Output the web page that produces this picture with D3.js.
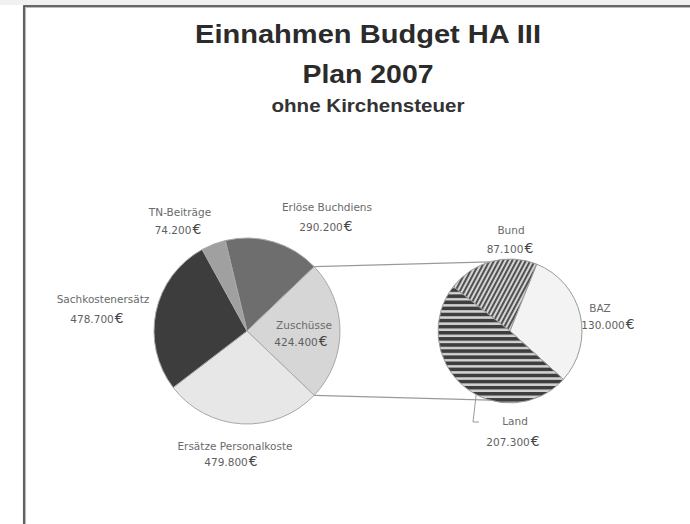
<!DOCTYPE html>
<html>
<head>
<meta charset="utf-8">
<script src="https://cdn.jsdelivr.net/npm/d3@7"></script>
<style>
  html, body { margin: 0; padding: 0; background: #ffffff; }
  svg { display: block; }
</style>
</head>
<body>
<svg id="chart" width="690" height="524"></svg>
<script>
// ---- data ----
const titleLines = ["Einnahmen Budget HA III", "Plan 2007", "ohne Kirchensteuer"];
const mainCategories = ["Erlöse Buchdiens", "Zuschüsse", "Ersätze Personalkoste", "Sachkostenersätz", "TN-Beiträge"];
const mainValues = [290200, 424400, 479800, 478700, 74200];
const splitIndex = 1; // "Zuschüsse" is broken out into the second pie
const subCategories = ["Bund", "BAZ", "Land"];
const subValues = [87100, 130000, 207300];

// ---- layout / style (kept separate from data) ----
const W = 690, H = 524;
const main = { cx: 247, cy: 331, r: 93 };
const sub = { cx: 510, cy: 331, r: 72, start: -52 * Math.PI / 180 };
const mainFills = ["#6e6e6e", "#d6d6d6", "#e7e7e7", "#3d3d3d", "#a0a0a0"];
const subFills = ["url(#hatchDiag)", "#f3f3f3", "url(#hatchHoriz)"];
// label anchor positions (name line centre, value line centre)
const mainLabelPos = [
  { nx: 327, ny: 207, vx: 326, vy: 227 },
  { nx: 304, ny: 325, vx: 301, vy: 342 },
  { nx: 235, ny: 446, vx: 231, vy: 462 },
  { nx: 103, ny: 299, vx: 97,  vy: 319 },
  { nx: 180, ny: 212, vx: 178, vy: 230 }
];
const subLabelPos = [
  { nx: 511, ny: 230, vx: 510, vy: 249 },
  { nx: 600, ny: 308, vx: 608, vy: 325 },
  { nx: 515, ny: 421, vx: 513, vy: 442 }
];

const svg = d3.select("#chart");
const de = d3.formatLocale({ decimal: ",", thousands: ".", grouping: [3], currency: ["", " €"] });
const fmt = de.format(",d");

// background + frame
svg.append("rect").attr("x", 0).attr("y", 0).attr("width", W).attr("height", H).attr("fill", "#ffffff");
svg.append("rect").attr("x", 0).attr("y", 0).attr("width", W).attr("height", 5).attr("fill", "#f1f1f1");
svg.append("path").attr("d", `M24.5,${H} L24.5,6.5 L${W},6.5`)
  .attr("fill", "none").attr("stroke", "#bdbdbd").attr("stroke-width", 3.2);
svg.append("path").attr("d", `M24,${H} L24,6 L${W},6`)
  .attr("fill", "none").attr("stroke", "#4a4a4a").attr("stroke-width", 1.6);

// patterns
const defs = svg.append("defs");
const pd = defs.append("pattern").attr("id", "hatchDiag").attr("patternUnits", "userSpaceOnUse")
  .attr("width", 4).attr("height", 4).attr("patternTransform", "rotate(28)");
pd.append("rect").attr("width", 4).attr("height", 4).attr("fill", "#d4d4d4");
pd.append("rect").attr("x", 0).attr("y", 0).attr("width", 1.9).attr("height", 4).attr("fill", "#4a4a4a");
const ph = defs.append("pattern").attr("id", "hatchHoriz").attr("patternUnits", "userSpaceOnUse")
  .attr("width", 6).attr("height", 6.1);
ph.append("rect").attr("width", 6).attr("height", 6.1).attr("fill", "#d2d2d2");
ph.append("rect").attr("x", 0).attr("y", 0).attr("width", 6).attr("height", 3.6).attr("fill", "#3e3e3e");

// titles
const titleSpecs = [
  { y: 43, size: 26, len: 346, color: "#2b2b2b" },
  { y: 83, size: 26, len: 131, color: "#2b2b2b" },
  { y: 112, size: 18, len: 193, color: "#333333" }
];
titleLines.forEach((t, i) => {
  const s = titleSpecs[i];
  svg.append("text").attr("x", 368).attr("y", s.y)
    .attr("text-anchor", "middle")
    .attr("font-family", "'Liberation Sans', Arial, sans-serif")
    .attr("font-weight", "bold").attr("font-size", s.size)
    .attr("fill", s.color)
    .attr("textLength", s.len).attr("lengthAdjust", "spacingAndGlyphs")
    .text(t);
});

// main pie: broken-out slice centred at 3 o'clock
const total = d3.sum(mainValues);
const before = d3.sum(mainValues.slice(0, splitIndex)) + mainValues[splitIndex] / 2;
const a0 = Math.PI / 2 - before / total * 2 * Math.PI;
const mainPie = d3.pie().sort(null).startAngle(a0).endAngle(a0 + 2 * Math.PI)(mainValues);
const mainArc = d3.arc().innerRadius(0).outerRadius(main.r);

const subPie = d3.pie().sort(null).startAngle(sub.start).endAngle(sub.start + 2 * Math.PI)(subValues);
const subArc = d3.arc().innerRadius(0).outerRadius(sub.r);

// connector lines
const split = mainPie[splitIndex];
const pt = (c, r, a) => [c.cx + r * Math.sin(a), c.cy - r * Math.cos(a)];
const lTop = pt(main, main.r, split.startAngle), lBot = pt(main, main.r, split.endAngle);
const rTop = pt(sub, sub.r, -16 * Math.PI / 180), rBot = pt(sub, sub.r, 196 * Math.PI / 180);
svg.append("line").attr("x1", lTop[0]).attr("y1", lTop[1]).attr("x2", rTop[0]).attr("y2", rTop[1])
  .attr("stroke", "#9a9a9a").attr("stroke-width", 1.2);
svg.append("line").attr("x1", lBot[0]).attr("y1", lBot[1]).attr("x2", rBot[0]).attr("y2", rBot[1])
  .attr("stroke", "#9a9a9a").attr("stroke-width", 1.2);

svg.append("g").attr("transform", `translate(${main.cx},${main.cy})`)
  .selectAll("path").data(mainPie).join("path")
  .attr("d", mainArc)
  .attr("fill", (d, i) => mainFills[i])
  .attr("stroke", "#a8a8a8").attr("stroke-width", 1);

svg.append("g").attr("transform", `translate(${sub.cx},${sub.cy})`)
  .selectAll("path").data(subPie).join("path")
  .attr("d", subArc)
  .attr("fill", (d, i) => subFills[i])
  .attr("stroke", "#9a9a9a").attr("stroke-width", 1);

// leader line for "Land"
const landMid = pt(sub, sub.r, 208 * Math.PI / 180);
svg.append("polyline")
  .attr("points", [[landMid[0], landMid[1]], [473, 422], [479, 422]].map(p => p.join(",")).join(" "))
  .attr("fill", "none").attr("stroke", "#9a9a9a").attr("stroke-width", 1);

// labels
function addLabel(name, value, p) {
  svg.append("text").attr("x", p.nx).attr("y", p.ny + 4)
    .attr("text-anchor", "middle")
    .attr("font-family", "'DejaVu Sans', Verdana, sans-serif")
    .attr("font-size", 10.5).attr("fill", "#6a6a6a")
    .text(name);
  const t = svg.append("text").attr("x", p.vx).attr("y", p.vy + 4)
    .attr("text-anchor", "middle")
    .attr("font-family", "'DejaVu Sans', Verdana, sans-serif")
    .attr("font-size", 10.5).attr("fill", "#5f5f5f");
  t.append("tspan").text(fmt(value));
  t.append("tspan").attr("dx", 1).attr("font-size", 14).attr("fill", "#444").text("€");
}
mainCategories.forEach((c, i) => addLabel(c, mainValues[i], mainLabelPos[i]));
subCategories.forEach((c, i) => addLabel(c, subValues[i], subLabelPos[i]));
</script>
</body>
</html>
